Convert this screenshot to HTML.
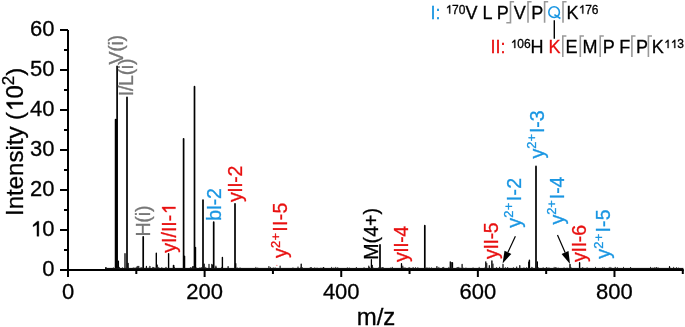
<!DOCTYPE html>
<html><head><meta charset="utf-8"><style>
html,body{margin:0;padding:0;background:#fff;width:685px;height:327px;overflow:hidden}
svg{display:block;font-family:"Liberation Sans", sans-serif;will-change:transform;color:#000}
text,tspan{fill:currentColor;stroke:currentColor;stroke-width:0.3px}
</style></head><body>
<svg width="685" height="327" viewBox="0 0 685 327" font-family='"Liberation Sans", sans-serif'><rect x="67" y="30" width="2" height="247" fill="#000"/>
<rect x="60" y="269" width="623.8" height="2" fill="#000"/>
<rect x="60" y="269" width="8" height="2" fill="#000"/>
<rect x="64" y="249" width="4" height="2" fill="#000"/>
<rect x="60" y="229" width="8" height="2" fill="#000"/>
<rect x="64" y="209" width="4" height="2" fill="#000"/>
<rect x="60" y="189" width="8" height="2" fill="#000"/>
<rect x="64" y="169" width="4" height="2" fill="#000"/>
<rect x="60" y="149" width="8" height="2" fill="#000"/>
<rect x="64" y="129" width="4" height="2" fill="#000"/>
<rect x="60" y="109" width="8" height="2" fill="#000"/>
<rect x="64" y="89" width="4" height="2" fill="#000"/>
<rect x="60" y="69" width="8" height="2" fill="#000"/>
<rect x="64" y="49" width="4" height="2" fill="#000"/>
<rect x="60" y="29" width="8" height="2" fill="#000"/>
<text x="54.5" y="276.3" text-anchor="end" font-size="22">0</text>
<text x="54.5" y="236.3" text-anchor="end" font-size="22"> 0</text>
<path d="M823 0H643V1102L283 880V1046L681 1409H823Z" transform="translate(30.029,236.3) scale(0.01074,-0.01074)" style="fill:#000;stroke:#000;stroke-width:0.3px" vector-effect="non-scaling-stroke"/>
<text x="54.5" y="196.3" text-anchor="end" font-size="22">20</text>
<text x="54.5" y="156.3" text-anchor="end" font-size="22">30</text>
<text x="54.5" y="116.3" text-anchor="end" font-size="22">40</text>
<text x="54.5" y="76.3" text-anchor="end" font-size="22">50</text>
<text x="54.5" y="36.3" text-anchor="end" font-size="22">60</text>
<rect x="67.0" y="270" width="2" height="7" fill="#000"/>
<text x="68.0" y="299.4" text-anchor="middle" font-size="22">0</text>
<rect x="135.31" y="270" width="2" height="4" fill="#000"/>
<rect x="203.62" y="270" width="2" height="7" fill="#000"/>
<text x="204.62" y="299.4" text-anchor="middle" font-size="22">200</text>
<rect x="271.93" y="270" width="2" height="4" fill="#000"/>
<rect x="340.24" y="270" width="2" height="7" fill="#000"/>
<text x="341.24" y="299.4" text-anchor="middle" font-size="22">400</text>
<rect x="408.55" y="270" width="2" height="4" fill="#000"/>
<rect x="476.86" y="270" width="2" height="7" fill="#000"/>
<text x="477.86" y="299.4" text-anchor="middle" font-size="22">600</text>
<rect x="545.1700000000001" y="270" width="2" height="4" fill="#000"/>
<rect x="613.48" y="270" width="2" height="7" fill="#000"/>
<text x="614.48" y="299.4" text-anchor="middle" font-size="22">800</text>
<rect x="681.7900000000001" y="270" width="2" height="4" fill="#000"/>
<text x="376" y="325" text-anchor="middle" font-size="24">m/z</text>
<path d="M823 0H643V1102L283 880V1046L681 1409H823Z" transform="translate(23,216) rotate(-90) translate(104.039,0) scale(0.01172,-0.01172)" style="fill:#000;stroke:#000;stroke-width:0.3px" vector-effect="non-scaling-stroke"/>
<text transform="translate(23,216) rotate(-90)" font-size="24">Intensity ( 0<tspan font-size="17" dy="-9">2</tspan><tspan dy="9">)</tspan></text>
<path d="M105.70 267.70V270M195.60 247.40V270M204.20 264.00V270M228.10 266.60V270M235.80 263.60V270M310.30 267.80V270M436.90 266.50V270M442.90 267.50V270M462.10 264.40V270M489.30 265.70V270M503.00 264.40V270M519.80 265.70V270M537.40 261.80V270M669.50 266.70V270" stroke="#000" stroke-width="1.2" stroke-linecap="round" fill="none"/>
<path d="M115.60 119.55V270M117.10 66.35V270M127.00 97.35V270M143.20 236.85V270M173.60 265.55V270M183.60 138.75V270M194.50 86.65V270M203.00 200.05V270M213.70 222.15V270M235.00 203.75V270M323.50 267.75V270M380.00 244.85V270M424.80 225.65V270M536.00 166.45V270" stroke="#000" stroke-width="1.7" stroke-linecap="round" fill="none"/>
<path d="M118.40 261.15V270M125.00 253.75V270M128.10 263.35V270M184.60 256.15V270M301.20 264.05V270M371.40 259.65V270M401.50 263.65V270M450.30 261.85V270M452.50 262.75V270M485.80 261.85V270" stroke="#000" stroke-width="1.3" stroke-linecap="round" fill="none"/>
<path d="M136.80 267.00V270M137.80 266.30V270M138.80 266.30V270M157.30 265.00V270M161.80 267.70V270M192.60 266.70V270M193.30 266.50V270M212.40 265.00V270M216.00 267.20V270M215.90 266.10V270M268.90 266.50V270M298.00 267.00V270M402.80 266.10V270M451.30 262.50V270M486.80 263.50V270M493.00 264.00V270M496.60 267.70V270M516.70 267.00V270M528.60 262.00V270M555.90 267.40V270M602.50 267.90V270M611.20 268.00V270" stroke="#000" stroke-width="1" stroke-linecap="round" fill="none"/>
<path d="M146.40 266.35V270M149.90 266.35V270M209.00 264.35V270M211.80 264.35V270M280.10 266.15V270M368.80 266.15V270M372.30 265.25V270" stroke="#000" stroke-width="1.1" stroke-linecap="round" fill="none"/>
<path d="M156.30 253.30V270M168.60 253.70V270M222.40 257.50V270M491.90 261.00V270M529.40 260.20V270M570.00 264.50V270M579.60 262.80V270" stroke="#000" stroke-width="1.4" stroke-linecap="round" fill="none"/>
<rect x="105" y="267.9" width="578.4" height="1.3" fill="#111"/>
<rect x="292.5" y="267.4" width="0.9" height="1.0" fill="#222"/>
<rect x="333.4" y="267.6" width="0.9" height="0.8" fill="#222"/>
<rect x="147.7" y="267.6" width="0.9" height="0.8" fill="#222"/>
<rect x="316.6" y="267.6" width="0.9" height="0.8" fill="#222"/>
<rect x="630.0" y="267.4" width="0.9" height="1.0" fill="#222"/>
<rect x="127.6" y="266.9" width="0.9" height="1.5" fill="#222"/>
<rect x="346.9" y="267.4" width="0.9" height="1.0" fill="#222"/>
<rect x="158.3" y="266.9" width="0.9" height="1.5" fill="#222"/>
<rect x="140.0" y="267.6" width="0.9" height="0.8" fill="#222"/>
<rect x="651.7" y="267.6" width="0.9" height="0.8" fill="#222"/>
<rect x="438.4" y="266.9" width="0.9" height="1.5" fill="#222"/>
<rect x="134.6" y="267.4" width="0.9" height="1.0" fill="#222"/>
<rect x="132.8" y="267.4" width="0.9" height="1.0" fill="#222"/>
<rect x="272.8" y="267.4" width="0.9" height="1.0" fill="#222"/>
<rect x="417.4" y="267.2" width="0.9" height="1.2" fill="#222"/>
<rect x="428.7" y="267.4" width="0.9" height="1.0" fill="#222"/>
<rect x="165.4" y="267.4" width="0.9" height="1.0" fill="#222"/>
<rect x="320.5" y="267.6" width="0.9" height="0.8" fill="#222"/>
<rect x="431.1" y="267.4" width="0.9" height="1.0" fill="#222"/>
<rect x="391.9" y="266.9" width="0.9" height="1.5" fill="#222"/>
<rect x="553.7" y="266.9" width="0.9" height="1.5" fill="#222"/>
<rect x="443.3" y="266.9" width="0.9" height="1.5" fill="#222"/>
<rect x="314.3" y="267.4" width="0.9" height="1.0" fill="#222"/>
<rect x="563.6" y="267.4" width="0.9" height="1.0" fill="#222"/>
<rect x="153.1" y="267.2" width="0.9" height="1.2" fill="#222"/>
<rect x="408.5" y="267.2" width="0.9" height="1.2" fill="#222"/>
<rect x="526.2" y="267.2" width="0.9" height="1.2" fill="#222"/>
<rect x="456.8" y="267.6" width="0.9" height="0.8" fill="#222"/>
<rect x="174.0" y="266.9" width="0.9" height="1.5" fill="#222"/>
<rect x="201.0" y="267.2" width="0.9" height="1.2" fill="#222"/>
<rect x="193.5" y="266.9" width="0.9" height="1.5" fill="#222"/>
<rect x="348.9" y="267.6" width="0.9" height="0.8" fill="#222"/>
<rect x="546.4" y="267.2" width="0.9" height="1.2" fill="#222"/>
<rect x="301.9" y="267.2" width="0.9" height="1.2" fill="#222"/>
<rect x="448.4" y="266.9" width="0.9" height="1.5" fill="#222"/>
<rect x="145.6" y="267.6" width="0.9" height="0.8" fill="#222"/>
<rect x="650.1" y="266.9" width="0.9" height="1.5" fill="#222"/>
<rect x="507.5" y="267.6" width="0.9" height="0.8" fill="#222"/>
<rect x="140.9" y="267.2" width="0.9" height="1.2" fill="#222"/>
<rect x="478.7" y="266.9" width="0.9" height="1.5" fill="#222"/>
<rect x="269.9" y="266.9" width="0.9" height="1.5" fill="#222"/>
<rect x="616.9" y="267.2" width="0.9" height="1.2" fill="#222"/>
<rect x="119.0" y="266.9" width="0.9" height="1.5" fill="#222"/>
<rect x="310.7" y="267.6" width="0.9" height="0.8" fill="#222"/>
<rect x="390.4" y="267.4" width="0.9" height="1.0" fill="#222"/>
<rect x="548.5" y="267.4" width="0.9" height="1.0" fill="#222"/>
<rect x="531.3" y="266.9" width="0.9" height="1.5" fill="#222"/>
<rect x="331.2" y="266.9" width="0.9" height="1.5" fill="#222"/>
<rect x="152.4" y="266.9" width="0.9" height="1.5" fill="#222"/>
<rect x="337.3" y="267.2" width="0.9" height="1.2" fill="#222"/>
<rect x="614.8" y="266.9" width="0.9" height="1.5" fill="#222"/>
<rect x="603.7" y="267.2" width="0.9" height="1.2" fill="#222"/>
<rect x="512.9" y="267.2" width="0.9" height="1.2" fill="#222"/>
<rect x="499.2" y="266.9" width="0.9" height="1.5" fill="#222"/>
<rect x="657.7" y="267.4" width="0.9" height="1.0" fill="#222"/>
<rect x="153.8" y="267.4" width="0.9" height="1.0" fill="#222"/>
<rect x="239.6" y="267.4" width="0.9" height="1.0" fill="#222"/>
<rect x="112.9" y="267.4" width="0.9" height="1.0" fill="#222"/>
<rect x="257.3" y="267.6" width="0.9" height="0.8" fill="#222"/>
<rect x="189.9" y="267.2" width="0.9" height="1.2" fill="#222"/>
<rect x="457.3" y="267.2" width="0.9" height="1.2" fill="#222"/>
<rect x="655.0" y="267.6" width="0.9" height="0.8" fill="#222"/>
<rect x="369.0" y="266.9" width="0.9" height="1.5" fill="#222"/>
<rect x="335.3" y="266.9" width="0.9" height="1.5" fill="#222"/>
<rect x="165.6" y="266.9" width="0.9" height="1.5" fill="#222"/>
<rect x="141.9" y="267.6" width="0.9" height="0.8" fill="#222"/>
<rect x="673.2" y="266.9" width="0.9" height="1.5" fill="#222"/>
<rect x="199.5" y="267.2" width="0.9" height="1.2" fill="#222"/>
<rect x="452.0" y="267.6" width="0.9" height="0.8" fill="#222"/>
<rect x="106.1" y="267.4" width="0.9" height="1.0" fill="#222"/>
<rect x="415.1" y="267.2" width="0.9" height="1.2" fill="#222"/>
<rect x="459.5" y="267.6" width="0.9" height="0.8" fill="#222"/>
<rect x="609.6" y="266.9" width="0.9" height="1.5" fill="#222"/>
<rect x="191.6" y="267.2" width="0.9" height="1.2" fill="#222"/>
<rect x="656.3" y="267.2" width="0.9" height="1.2" fill="#222"/>
<rect x="379.1" y="267.6" width="0.9" height="0.8" fill="#222"/>
<rect x="595.0" y="266.9" width="0.9" height="1.5" fill="#222"/>
<rect x="382.7" y="267.2" width="0.9" height="1.2" fill="#222"/>
<rect x="155.5" y="267.6" width="0.9" height="0.8" fill="#222"/>
<rect x="537.8" y="267.2" width="0.9" height="1.2" fill="#222"/>
<rect x="381.7" y="267.4" width="0.9" height="1.0" fill="#222"/>
<rect x="403.4" y="267.4" width="0.9" height="1.0" fill="#222"/>
<rect x="653.8" y="267.2" width="0.9" height="1.2" fill="#222"/>
<rect x="190.4" y="267.6" width="0.9" height="0.8" fill="#222"/>
<rect x="542.7" y="267.2" width="0.9" height="1.2" fill="#222"/>
<rect x="669.6" y="267.6" width="0.9" height="0.8" fill="#222"/>
<rect x="507.0" y="267.2" width="0.9" height="1.2" fill="#222"/>
<rect x="404.6" y="267.4" width="0.9" height="1.0" fill="#222"/>
<rect x="310.9" y="267.4" width="0.9" height="1.0" fill="#222"/>
<rect x="412.8" y="267.2" width="0.9" height="1.2" fill="#222"/>
<rect x="472.6" y="267.4" width="0.9" height="1.0" fill="#222"/>
<rect x="570.3" y="266.9" width="0.9" height="1.5" fill="#222"/>
<rect x="532.2" y="267.4" width="0.9" height="1.0" fill="#222"/>
<rect x="221.2" y="266.9" width="0.9" height="1.5" fill="#222"/>
<rect x="310.8" y="267.6" width="0.9" height="0.8" fill="#222"/>
<rect x="676.0" y="267.2" width="0.9" height="1.2" fill="#222"/>
<rect x="378.0" y="267.4" width="0.9" height="1.0" fill="#222"/>
<rect x="504.9" y="267.2" width="0.9" height="1.2" fill="#222"/>
<rect x="363.6" y="267.2" width="0.9" height="1.2" fill="#222"/>
<rect x="656.1" y="267.2" width="0.9" height="1.2" fill="#222"/>
<rect x="152.4" y="267.6" width="0.9" height="0.8" fill="#222"/>
<rect x="236.7" y="267.4" width="0.9" height="1.0" fill="#222"/>
<rect x="300.5" y="266.9" width="0.9" height="1.5" fill="#222"/>
<rect x="465.5" y="267.6" width="0.9" height="0.8" fill="#222"/>
<rect x="382.2" y="267.2" width="0.9" height="1.2" fill="#222"/>
<rect x="566.6" y="267.6" width="0.9" height="0.8" fill="#222"/>
<rect x="586.8" y="267.6" width="0.9" height="0.8" fill="#222"/>
<rect x="630.0" y="267.4" width="0.9" height="1.0" fill="#222"/>
<rect x="381.3" y="267.4" width="0.9" height="1.0" fill="#222"/>
<rect x="355.9" y="267.2" width="0.9" height="1.2" fill="#222"/>
<rect x="156.0" y="266.9" width="0.9" height="1.5" fill="#222"/>
<rect x="372.8" y="267.6" width="0.9" height="0.8" fill="#222"/>
<rect x="523.5" y="267.4" width="0.9" height="1.0" fill="#222"/>
<rect x="678.0" y="267.6" width="0.9" height="0.8" fill="#222"/>
<rect x="193.1" y="266.9" width="0.9" height="1.5" fill="#222"/>
<rect x="570.5" y="267.4" width="0.9" height="1.0" fill="#222"/>
<rect x="458.3" y="266.9" width="0.9" height="1.5" fill="#222"/>
<rect x="484.6" y="267.2" width="0.9" height="1.2" fill="#222"/>
<rect x="195.8" y="267.4" width="0.9" height="1.0" fill="#222"/>
<rect x="118.3" y="267.6" width="0.9" height="0.8" fill="#222"/>
<rect x="409.3" y="267.4" width="0.9" height="1.0" fill="#222"/>
<rect x="355.9" y="267.4" width="0.9" height="1.0" fill="#222"/>
<rect x="581.9" y="267.4" width="0.9" height="1.0" fill="#222"/>
<rect x="122.1" y="267.4" width="0.9" height="1.0" fill="#222"/>
<rect x="274.7" y="267.4" width="0.9" height="1.0" fill="#222"/>
<rect x="545.9" y="267.2" width="0.9" height="1.2" fill="#222"/>
<rect x="255.4" y="266.9" width="0.9" height="1.5" fill="#222"/>
<rect x="586.5" y="267.6" width="0.9" height="0.8" fill="#222"/>
<rect x="630.2" y="267.2" width="0.9" height="1.2" fill="#222"/>
<rect x="623.1" y="266.9" width="0.9" height="1.5" fill="#222"/>
<rect x="582.4" y="267.4" width="0.9" height="1.0" fill="#222"/>
<rect x="412.3" y="267.6" width="0.9" height="0.8" fill="#222"/>
<rect x="608.7" y="267.4" width="0.9" height="1.0" fill="#222"/>
<rect x="456.5" y="267.4" width="0.9" height="1.0" fill="#222"/>
<rect x="205.3" y="266.9" width="0.9" height="1.5" fill="#222"/>
<rect x="462.6" y="267.6" width="0.9" height="0.8" fill="#222"/>
<rect x="426.5" y="267.2" width="0.9" height="1.2" fill="#222"/>
<rect x="499.0" y="266.9" width="0.9" height="1.5" fill="#222"/>
<rect x="557.7" y="267.6" width="0.9" height="0.8" fill="#222"/>
<rect x="614.7" y="267.6" width="0.9" height="0.8" fill="#222"/>
<text transform="translate(123.2,64.6) rotate(-90)" font-size="19.5" style="color:#777777" textLength="29.73" lengthAdjust="spacing">V(i)</text>
<text transform="translate(133,96.2) rotate(-90)" font-size="19.5" style="color:#777777" textLength="37.6" lengthAdjust="spacing">I/L(i)</text>
<text transform="translate(149.5,236.6) rotate(-90)" font-size="19.5" style="color:#777777" textLength="31.01" lengthAdjust="spacing">H(i)</text>
<path d="M823 0H643V1102L283 880V1046L681 1409H823Z" transform="translate(175.5,252.7) rotate(-90) translate(37.915,0) scale(0.00952,-0.00952)" style="fill:#e81010;stroke:#e81010;stroke-width:0.3px" vector-effect="non-scaling-stroke"/>
<text transform="translate(175.5,252.7) rotate(-90)" font-size="19.5" style="color:#e81010">yI/II- </text>
<text transform="translate(220.5,220.8) rotate(-90)" font-size="19.5" style="color:#1a96e2" textLength="32.61" lengthAdjust="spacing">bI-2</text>
<text transform="translate(241.5,202) rotate(-90)" font-size="19.5" style="color:#e81010" textLength="36.34" lengthAdjust="spacing">yII-2</text>
<text transform="translate(287,258.1) rotate(-90)" font-size="19.5" style="color:#e81010" textLength="55.57" lengthAdjust="spacing">y<tspan font-size="13" dy="-7.5">2+</tspan><tspan dy="7.5" dx="1">II-5</tspan></text>
<text transform="translate(378,259.7) rotate(-90)" font-size="19.5" style="color:#000" textLength="51.67" lengthAdjust="spacing">M(4+)</text>
<text transform="translate(407.7,262) rotate(-90)" font-size="19.5" style="color:#e81010" textLength="36.14" lengthAdjust="spacing">yII-4</text>
<text transform="translate(498,258.9) rotate(-90)" font-size="19.5" style="color:#e81010" textLength="36.54" lengthAdjust="spacing">yII-5</text>
<text transform="translate(520.8,227.8) rotate(-90)" font-size="19.5" style="color:#1a96e2" textLength="49.94" lengthAdjust="spacing">y<tspan font-size="13" dy="-7.5">2+</tspan><tspan dy="7.5" dx="1">I-2</tspan></text>
<text transform="translate(543.8,158.5) rotate(-90)" font-size="19.5" style="color:#1a96e2" textLength="48.14" lengthAdjust="spacing">y<tspan font-size="13" dy="-7.5">2+</tspan><tspan dy="7.5" dx="1">I-3</tspan></text>
<text transform="translate(563.8,224.5) rotate(-90)" font-size="19.5" style="color:#1a96e2" textLength="47.94" lengthAdjust="spacing">y<tspan font-size="13" dy="-7.5">2+</tspan><tspan dy="7.5" dx="1">I-4</tspan></text>
<text transform="translate(586.2,262.1) rotate(-90)" font-size="19.5" style="color:#e81010" textLength="37.14" lengthAdjust="spacing">yII-6</text>
<text transform="translate(610.2,258.7) rotate(-90)" font-size="19.5" style="color:#1a96e2" textLength="49.34" lengthAdjust="spacing">y<tspan font-size="13" dy="-7.5">2+</tspan><tspan dy="7.5" dx="1">I-5</tspan></text>
<rect x="276.3" y="264.9" width="1.1" height="1" fill="#e81010" opacity="0.6"/>
<line x1="515.4" y1="236.3" x2="507.9" y2="252.3" stroke="#000" stroke-width="1.2"/><polygon points="502.6,263.6 504.5,250.7 511.3,253.9" fill="#000"/>
<line x1="557.5" y1="235" x2="565.1" y2="252.5" stroke="#000" stroke-width="1.2"/><polygon points="570,264 561.6,254.0 568.5,251.0" fill="#000"/>
<text x="430.4" y="18.5" font-size="18"><tspan style="color:#1a96e2">I:</tspan> <tspan font-size="12" dy="-5"> 70</tspan><tspan dy="5">V L P</tspan></text>
<text x="513.8" y="18.5" font-size="18">V</text>
<text x="531.3" y="18.5" font-size="18">P</text>
<circle cx="554.1" cy="12.15" r="5.3" fill="none" stroke="#1a96e2" stroke-width="1.55"/>
<line x1="554.4" y1="14.6" x2="560.4" y2="18.5" stroke="#1a96e2" stroke-width="1.6"/>
<text x="566.5" y="18.5" font-size="18">K<tspan font-size="12" dy="-5"> 76</tspan></text>
<text x="490.5" y="53.1" font-size="18"><tspan style="color:#e81010">II:</tspan> <tspan font-size="12" dy="-5"> 06</tspan><tspan dy="5">H </tspan><tspan style="color:#e81010">K</tspan></text>
<text x="565.6" y="53.1" font-size="18">E</text>
<text x="582.6" y="53.1" font-size="18">M</text>
<text x="602.7" y="53.1" font-size="18">P F</text>
<text x="636" y="53.1" font-size="18">P</text>
<text x="651.8" y="53.1" font-size="18">K<tspan font-size="12" dy="-5">  3</tspan></text>
<path d="M823 0H643V1102L283 880V1046L681 1409H823Z" transform="translate(445.403,13.5) scale(0.00586,-0.00586)" style="fill:#000;stroke:#000;stroke-width:0.3px" vector-effect="non-scaling-stroke"/>
<path d="M823 0H643V1102L283 880V1046L681 1409H823Z" transform="translate(578.506,13.5) scale(0.00586,-0.00586)" style="fill:#000;stroke:#000;stroke-width:0.3px" vector-effect="non-scaling-stroke"/>
<path d="M823 0H643V1102L283 880V1046L681 1409H823Z" transform="translate(510.504,48.1) scale(0.00586,-0.00586)" style="fill:#000;stroke:#000;stroke-width:0.3px" vector-effect="non-scaling-stroke"/>
<path d="M823 0H643V1102L283 880V1046L681 1409H823Z" transform="translate(663.806,48.1) scale(0.00586,-0.00586)" style="fill:#000;stroke:#000;stroke-width:0.3px" vector-effect="non-scaling-stroke"/>
<path d="M823 0H643V1102L283 880V1046L681 1409H823Z" transform="translate(670.480,48.1) scale(0.00586,-0.00586)" style="fill:#000;stroke:#000;stroke-width:0.3px" vector-effect="non-scaling-stroke"/>
<path d="M514.1,1.8 H510.5 V22.8 H506.3" fill="none" stroke="#999" stroke-width="1.6"/>
<path d="M531.6,1.8 H528 V22.8" fill="none" stroke="#999" stroke-width="1.6"/>
<path d="M548.2,1.8 H544.6 V22.8" fill="none" stroke="#999" stroke-width="1.6"/>
<path d="M566.6,1.8 H563 V22.8" fill="none" stroke="#999" stroke-width="1.6"/>
<path d="M566.4,36 H562.8 V57" fill="none" stroke="#999" stroke-width="1.6"/>
<path d="M583.9,36 H580.3 V57" fill="none" stroke="#999" stroke-width="1.6"/>
<path d="M603.8000000000001,36 H600.2 V57" fill="none" stroke="#999" stroke-width="1.6"/>
<path d="M635.5,36 H631.9 V57" fill="none" stroke="#999" stroke-width="1.6"/>
<path d="M652.0,36 H648.4 V57" fill="none" stroke="#999" stroke-width="1.6"/>
<line x1="554.3" y1="20.3" x2="554.3" y2="38.8" stroke="#000" stroke-width="1.4"/></svg>
</body></html>
